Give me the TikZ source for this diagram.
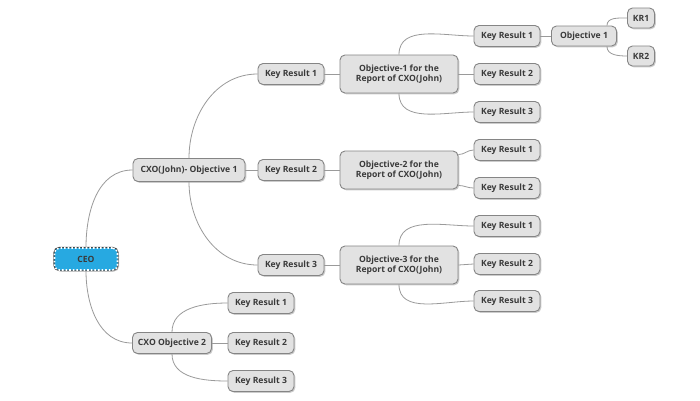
\documentclass[tikz,border=0pt]{standalone}
\usepackage{fontspec}
\setmainfont{Open Sans}
\usetikzlibrary{shadows}
\definecolor{txt}{HTML}{3A3A3A}
\definecolor{bx}{HTML}{E2E2E2}
\definecolor{bd}{HTML}{858585}
\definecolor{ln}{HTML}{9A9A9A}
\definecolor{ceob}{HTML}{27A9E1}
\tikzset{
  topic/.style={draw=bd, fill=bx, rounded corners=5pt, line width=0.9pt,
    font=\fontsize{8.6}{10.5}\selectfont\bfseries, text=txt, align=center, inner sep=1.5pt,
    drop shadow={opacity=0.4, shadow xshift=1.3pt, shadow yshift=-1.3pt}},
  kr/.style={topic, minimum width=66pt, minimum height=21pt},
  obj/.style={topic, minimum width=118pt, minimum height=38pt},
  conn/.style={draw=ln, line width=0.8pt},
}
\begin{document}
\begin{tikzpicture}[x=1pt,y=-1pt]
\useasboundingbox (0,0) rectangle (700,400);
\fill[white] (0,0) rectangle (700,400);
% nodes
\node[draw=white, fill=ceob, rounded corners=5pt, line width=1.6pt, dotted,
  minimum width=63pt, minimum height=22pt, font=\fontsize{8.6}{10.5}\selectfont\bfseries, text=txt,
  preaction={draw=black!75, solid, line width=2.4pt},
  drop shadow={opacity=0.5, shadow xshift=1.5pt, shadow yshift=-1.5pt}] (ceo) at (86,259) {CEO};
\node[topic, minimum width=112pt, minimum height=23pt] (c1) at (189,170) {CXO(John)- Objective 1};
\node[topic, minimum width=79pt, minimum height=21pt] (c2) at (172,343) {CXO Objective 2};
\node[kr] (a1) at (291,74) {Key Result 1};
\node[kr] (a2) at (291,170) {Key Result 2};
\node[kr] (a3) at (291,265) {Key Result 3};
\node[obj] (o1) at (399,74) {Objective-1 for the\\Report of CXO(John)};
\node[obj] (o2) at (399,170) {Objective-2 for the\\Report of CXO(John)};
\node[obj] (o3) at (399,265) {Objective-3 for the\\Report of CXO(John)};
\node[kr] (b1) at (507,36) {Key Result 1};
\node[kr] (b2) at (507,74) {Key Result 2};
\node[kr] (b3) at (507,112) {Key Result 3};
\node[kr] (d1) at (507,150) {Key Result 1};
\node[kr] (d2) at (507,188) {Key Result 2};
\node[kr] (e1) at (507,226) {Key Result 1};
\node[kr] (e2) at (507,264) {Key Result 2};
\node[kr] (e3) at (507,301) {Key Result 3};
\node[topic, minimum width=65pt, minimum height=20pt] (so) at (584,36) {Objective 1};
\node[topic, minimum width=27pt, minimum height=20pt, inner sep=1pt] (k1) at (641,18) {KR1};
\node[topic, minimum width=27pt, minimum height=20pt, inner sep=1pt] (k2) at (641,56) {KR2};
\node[kr] (f1) at (261,303) {Key Result 1};
\node[kr] (f2) at (261,343) {Key Result 2};
\node[kr] (f3) at (261,381) {Key Result 3};
\coordinate (o2a) at ([yshift=-4pt]o2.north east);
\coordinate (o2b) at ([yshift=4pt]o2.south east);
% connectors
\path[conn] (ceo.north) to[out=90,in=180] (c1.west);
\path[conn] (ceo.south) to[out=-90,in=180] (c2.west);
\path[conn] (c1.north) to[out=90,in=180] (a1.west);
\path[conn] (c1.east) -- (a2.west);
\path[conn] (c1.south) to[out=-90,in=180] (a3.west);
\path[conn] (a1.east) -- (o1.west);
\path[conn] (a2.east) -- (o2.west);
\path[conn] (a3.east) -- (o3.west);
\path[conn] (o1.north) to[out=90,in=180] (b1.west);
\path[conn] (o1.east) -- (b2.west);
\path[conn] (o1.south) to[out=-90,in=180] (b3.west);
\path[conn] (o2a) to[out=0,in=180] (d1.west);
\path[conn] (o2b) to[out=0,in=180] (d2.west);
\path[conn] (o3.north) to[out=90,in=180] (e1.west);
\path[conn] (o3.east) -- (e2.west);
\path[conn] (o3.south) to[out=-90,in=180] (e3.west);
\path[conn] (b1.east) -- (so.west);
\path[conn] ([xshift=-10pt]so.north east) to[out=90,in=180] (k1.west);
\path[conn] ([xshift=-10pt]so.south east) to[out=-90,in=180] (k2.west);
\path[conn] (c2.north) to[out=90,in=180] (f1.west);
\path[conn] (c2.east) -- (f2.west);
\path[conn] (c2.south) to[out=-90,in=180] (f3.west);
\end{tikzpicture}
\end{document}
